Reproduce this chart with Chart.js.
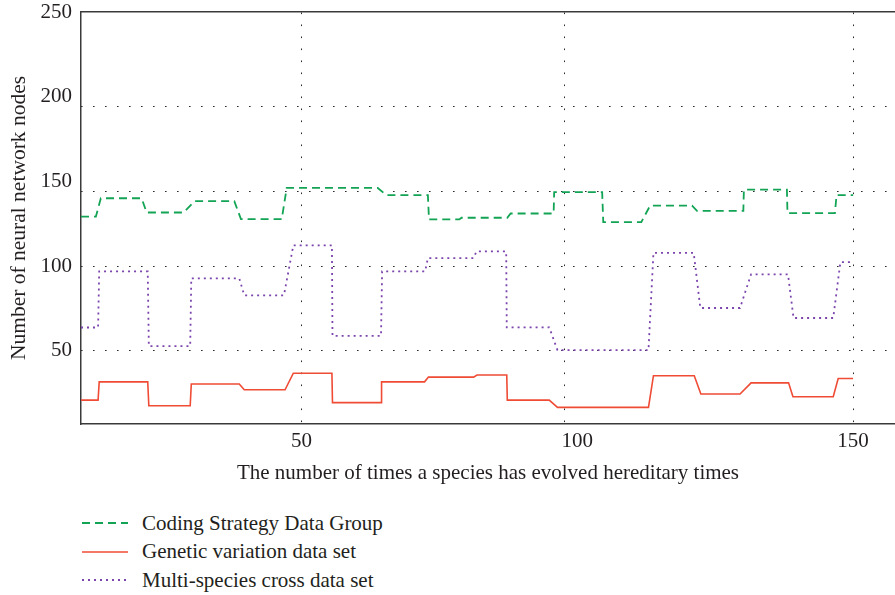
<!DOCTYPE html>
<html>
<head>
<meta charset="utf-8">
<script src="https://cdn.jsdelivr.net/npm/chart.js@4.4.0/dist/chart.umd.min.js"></script>
<style>
  body { margin: 0; background: #fff; }
  #wrap { position: relative; width: 895px; height: 595px; }
  #chartBox { position: absolute; left: 0; top: 0; width: 895px; height: 490px; }
  #legend { position: absolute; left: 82px; top: 509px; font-family: "Liberation Serif", "Times New Roman", serif; font-size: 21px; color: #231f20; }
  .item { display: flex; align-items: center; height: 28.5px; white-space: nowrap; }
  .item svg { margin-right: 14px; }
</style>
</head>
<body>
<div id="wrap">
  <div id="chartBox"><canvas id="chart"></canvas></div>
  <div id="legend"></div>
</div>
<script>
// x positions where each series changes, and the value at each of them
const codingX = [10, 12.7, 13.6, 21.0, 21.9, 28.6, 30.6, 37.8, 39.0, 46.4, 47.3, 63.8, 65.4, 72.9, 73.1, 78.6, 79.0, 87.3, 87.9, 95.7, 95.8, 104.5, 104.7, 111.6, 113.2, 120.8, 121.7, 130.1, 130.2, 138.0, 138.1, 146.7, 147.0, 150];
const codingY = [129.2, 129.2, 140, 140, 131.6, 131.6, 138.3, 138.3, 127.7, 127.7, 146.1, 146.1, 141.8, 141.8, 127.5, 127.5, 128.5, 128.5, 131, 131, 143.6, 143.6, 125.9, 125.9, 135.7, 135.7, 132.6, 132.6, 145.1, 145.1, 131.2, 131.2, 141.8, 141.8];

const geneticX = [10, 13.1, 13.3, 22.1, 22.3, 29.8, 30.0, 38.7, 39.6, 47.0, 48.5, 55.5, 55.6, 64.4, 64.5, 72.3, 73.0, 81.2, 81.8, 87.2, 87.3, 94.9, 96.4, 112.9, 113.8, 121.2, 122.4, 129.5, 131.5, 138.3, 139.1, 146.4, 147.3, 150];
const geneticY = [20.8, 20.8, 31.6, 31.6, 17.5, 17.5, 30.3, 30.3, 26.9, 26.9, 36.7, 36.7, 19.3, 19.3, 31.6, 31.6, 34.4, 34.4, 35.6, 35.6, 20.8, 20.8, 16.5, 16.5, 35.2, 35.2, 24.4, 24.4, 31, 31, 22.8, 22.8, 33.6, 33.6];

const multiX = [10, 13.1, 13.3, 22.1, 22.3, 29.8, 30.0, 38.7, 39.6, 46.8, 48.5, 55.5, 55.6, 64.4, 64.6, 72.4, 72.9, 81.2, 81.7, 87.1, 87.2, 94.9, 96.4, 112.9, 113.8, 121.1, 122.3, 129.5, 131.5, 138.2, 139.2, 146.4, 147.7, 149.8];
const multiY = [63.7, 63.7, 96.8, 96.8, 52.7, 52.7, 92.7, 92.7, 82.7, 82.7, 112.2, 112.2, 58.7, 58.7, 96.8, 96.8, 104.7, 104.7, 108.6, 108.6, 63.8, 63.8, 50.3, 50.3, 107.8, 107.8, 75.2, 75.2, 95.1, 95.1, 69.3, 69.3, 102.3, 102.3];

const xTicks = [50, 100, 150];
const yTicks = [50, 100, 150, 200, 250];
// the dotted grid in the picture does not sit on the labels
const xGridAt = [50, 97.6, 150];
const yGridAt = [50, 100, 144, 194];

const FONT = '"Liberation Serif", "Times New Roman", serif';
const INK = '#231f20';
Chart.defaults.font.family = FONT;
Chart.defaults.color = INK;

const toPoints = (xs, ys) => xs.map((x, i) => ({ x: x, y: ys[i] }));

const series = [
    { label: 'Coding Strategy Data Group', xs: codingX, ys: codingY, color: '#12a454', dash: [8, 5], width: 1.8 },
    { label: 'Genetic variation data set', xs: geneticX, ys: geneticY, color: '#ef4b35', dash: [], width: 1.6 },
    { label: 'Multi-species cross data set', xs: multiX, ys: multiY, color: '#7b45ad', dash: [2, 4], width: 1.8 }
];

const setTicks = values => scale => { scale.ticks = values.map(v => ({ value: v })); };
// fixed box sizes, and no extra room for labels that hang over the ends
const fixSize = (w, h) => scale => {
    if (w !== null) scale.width = w;
    if (h !== null) scale.height = h;
    scale.paddingTop = 0; scale.paddingBottom = 0;
    scale.paddingLeft = 0; scale.paddingRight = 0;
};
const axisBorder = { display: true, color: '#3a3a3a', width: 1.5 };
const dots = [1.6, 10.4];

new Chart(document.getElementById('chart'), {
    type: 'line',
    data: {
        datasets: series.map(s => ({
            label: s.label,
            data: toPoints(s.xs, s.ys),
            borderColor: s.color,
            borderDash: s.dash,
            borderWidth: s.width,
            pointRadius: 0,
            tension: 0,
            fill: false,
            xAxisID: 'x',
            yAxisID: 'y'
        }))
    },
    options: {
        responsive: true,
        maintainAspectRatio: false,
        animation: false,
        layout: { padding: 0 },
        plugins: { legend: { display: false }, tooltip: { enabled: false } },
        scales: {
            x: {
                type: 'linear', position: 'bottom', min: 10, max: 157.6,
                grid: { display: false, drawTicks: false },
                border: axisBorder,
                ticks: { font: { size: 21 }, padding: 5, maxRotation: 0 },
                afterBuildTicks: setTicks(xTicks),
                afterFit: fixSize(null, 66),
                title: {
                    display: true,
                    text: 'The number of times a species has evolved hereditary times',
                    font: { size: 21 },
                    padding: { top: 0, bottom: 4 }
                }
            },
            xGrid: {
                type: 'linear', position: 'top', min: 10, max: 157.6,
                ticks: { display: false },
                grid: { color: '#2a2a2a', lineWidth: 1, drawTicks: false },
                border: { display: true, color: '#3a3a3a', width: 1.5, dash: dots },
                afterBuildTicks: setTicks(xGridAt),
                afterFit: fixSize(null, 12)
            },
            y: {
                type: 'linear', position: 'left', min: 6.7, max: 250,
                grid: { display: false, drawTicks: false },
                border: axisBorder,
                ticks: { font: { size: 21 }, padding: 9 },
                afterBuildTicks: setTicks(yTicks),
                afterFit: fixSize(81, null),
                title: {
                    display: true,
                    text: 'Number of neural network nodes',
                    font: { size: 21.5 },
                    padding: { top: 6, bottom: 0 }
                }
            },
            yGrid: {
                type: 'linear', position: 'right', min: 6.7, max: 250,
                ticks: { display: false },
                grid: { color: '#2a2a2a', lineWidth: 1, drawTicks: false },
                border: { display: false, dash: dots },
                afterBuildTicks: setTicks(yGridAt),
                afterFit: fixSize(0, null)
            }
        }
    }
});

// legend under the chart, one row per series
const legend = document.getElementById('legend');
series.forEach(s => {
    const row = document.createElement('div');
    row.className = 'item';
    row.innerHTML = `<svg width="46" height="4"><line x1="0" y1="2" x2="46" y2="2" stroke="${s.color}" stroke-width="${s.width}" stroke-dasharray="${s.dash.join(' ') || 'none'}"/></svg><span>${s.label}</span>`;
    legend.appendChild(row);
});
</script>
</body>
</html>
